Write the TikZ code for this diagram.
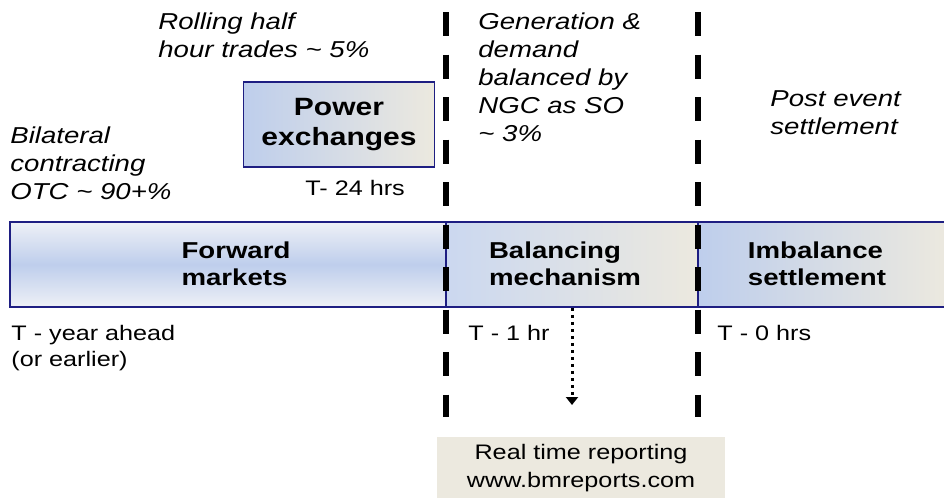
\documentclass[tikz,border=0pt]{standalone}
\usepackage{fontspec}
\setmainfont{Liberation Sans}[FakeStretch=1.2]
\usetikzlibrary{arrows.meta,positioning,calc}

\definecolor{barblue}{RGB}{190,206,236}
\definecolor{barlight}{RGB}{238,240,246}
\definecolor{beige}{RGB}{236,233,223}
\definecolor{navy}{RGB}{30,30,130}

\tikzset{
  seg/.style={draw=navy, line width=0.8pt, inner sep=0pt, minimum height=42.5pt},
  barlabel/.style={align=left, inner sep=0pt,
    font=\bfseries\fontsize{11.5}{13.5}\selectfont},
  note/.style={anchor=north west, align=left, inner sep=0pt,
    font=\itshape\fontsize{11.5}{14}\selectfont},
  tlabel/.style={anchor=north west, align=left, inner sep=0pt,
    font=\fontsize{10.5}{13}\selectfont},
  cutline/.style={line width=3pt, dash pattern=on 12pt off 9.25pt}
}

\begin{document}
\begin{tikzpicture}[x=0.5pt,y=-0.5pt]
  \useasboundingbox (0,0) rectangle (944,498);

  % time bar
  \node[seg, minimum width=218pt, top color=barlight, bottom color=barlight,
        middle color=barblue] (fwd) at (228,264.5) {};
  \node[seg, minimum width=126pt, left color=barblue!80!white, right color=beige]
        (bal) at (572,264.5) {};
  \node[seg, minimum width=125pt, left color=barblue, right color=beige]
        (imb) at (823,264.5) {};
  \node[barlabel] (fwdlbl) at (236,264) {Forward\\markets};
  \node[barlabel] (ballbl) at (565,264) {Balancing\\mechanism};
  \node[barlabel] (imblbl) at (817,264) {Imbalance\\settlement};

  % power exchanges
  \node[seg, minimum width=95.5pt, minimum height=42.5pt, left color=barblue,
        right color=beige, align=center, font=\bfseries\fontsize{12.5}{15}\selectfont]
        (px) at (339,124.5) {Power\\exchanges};
  \node[tlabel] (t24) at (305,180) {T- 24 hrs};

  % gate closures
  \coordinate (gtop) at (446,12);
  \coordinate (gbot) at (446,417);
  \coordinate (ptop) at (698,12);
  \coordinate (pbot) at (698,417);
  \draw[cutline] (gtop) -- (gbot);
  \draw[cutline] (ptop) -- (pbot);

  % notes
  \node[note] (roll) at (158,12) {Rolling half\\hour trades \textasciitilde{} 5\%};
  \node[note] (bilat) at (10,126) {Bilateral\\contracting\\OTC \textasciitilde{} 90+\%};
  \node[note] (gen) at (478,12) {Generation \&\\demand\\balanced by\\NGC as SO\\\textasciitilde{} 3\%};
  \node[note] (post) at (770,90) {Post event\\settlement};

  % times
  \node[tlabel] (tyear) at (11,325) {T - year ahead\\(or earlier)};
  \node[tlabel] (thr) at (468,325) {T - 1 hr};
  \node[tlabel] (tzero) at (717,325) {T - 0 hrs};

  % reporting
  \node[fill=beige, minimum width=144pt, minimum height=31pt, align=center,
        inner sep=0pt, font=\fontsize{10.5}{14}\selectfont]
        (rep) at (581,468) {Real time reporting\\www.bmreports.com};
  \draw[line width=1.5pt, dotted, -{Triangle[width=6pt,length=4pt]}]
        (bal.south) -- (bal.south |- 0,405);
\end{tikzpicture}
\end{document}
